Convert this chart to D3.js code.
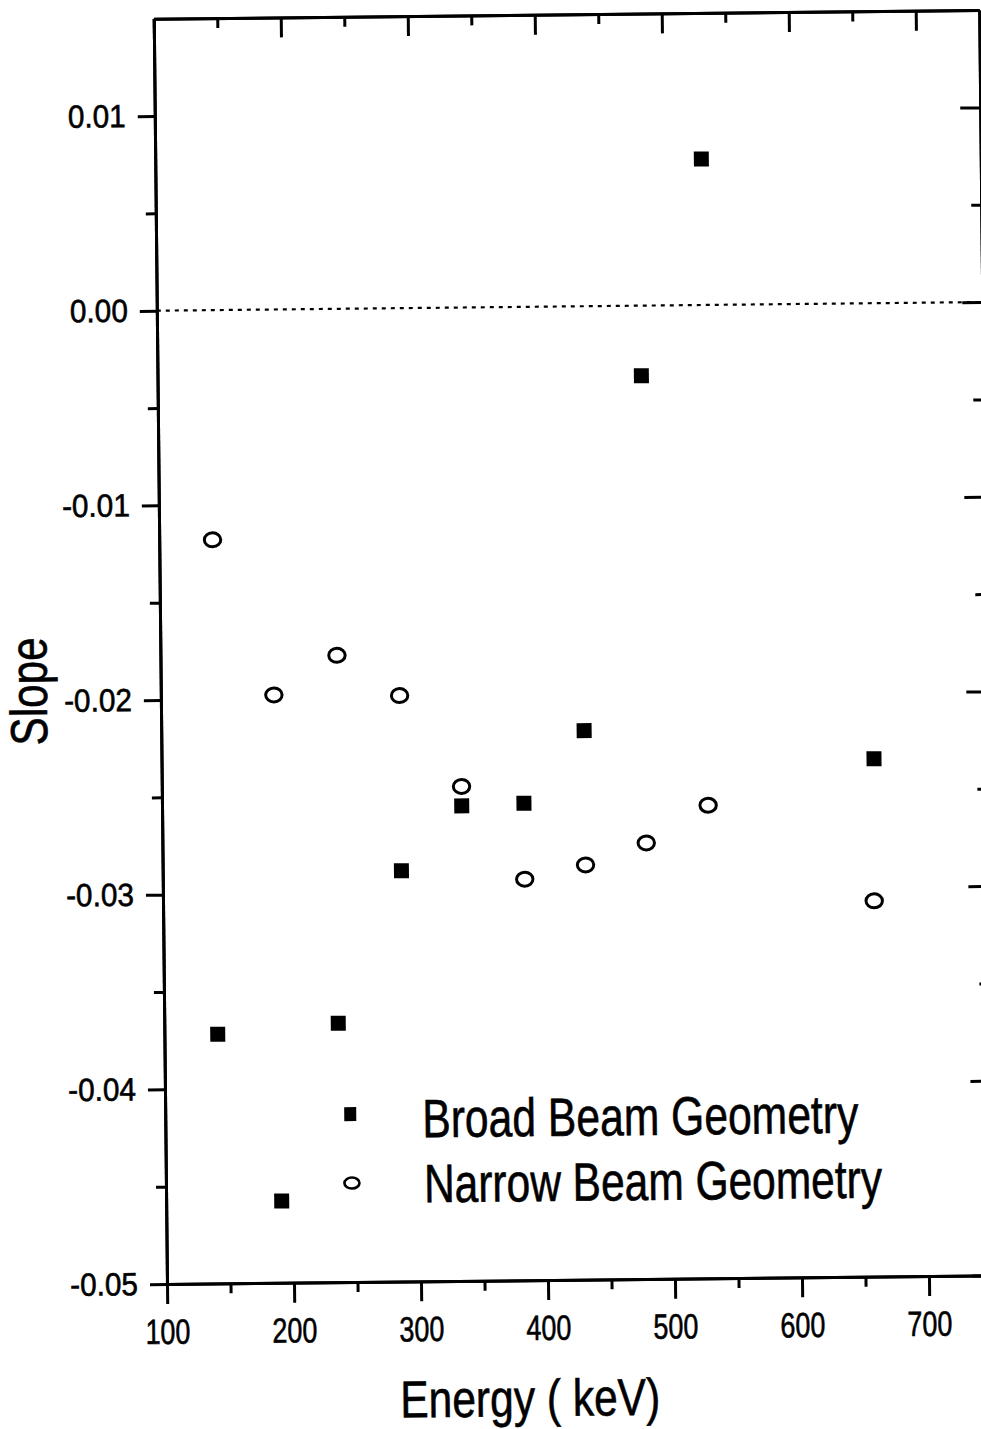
<!DOCTYPE html>
<html>
<head>
<meta charset="utf-8">
<script src="https://cdn.jsdelivr.net/npm/d3@7"></script>
<style>
  body { margin: 0; background: #fff; }
  text { font-family: "Liberation Sans", Arial, Helvetica, sans-serif; fill: #000; stroke: #000; stroke-width: 0.6px; }
</style>
</head>
<body>
<svg id="chart" width="981" height="1429"></svg>
<script>
// Slope vs. photon energy for two counting geometries
const broadEnergy  = [142, 191, 237, 288, 336, 385, 433, 481, 530, 661];
const broadSlope   = [-0.0372, -0.0458, -0.0367, -0.0289, -0.0256, -0.0255, -0.0218, -0.0036, 0.0075, -0.0234];
const narrowEnergy = [142, 189, 239, 288, 336, 385, 433, 481, 530, 660];
const narrowSlope  = [-0.0118, -0.0198, -0.0178, -0.0199, -0.0246, -0.0294, -0.0287, -0.0276, -0.0257, -0.0307];

const xMajorTicks = [100, 200, 300, 400, 500, 600, 700];
const xTickLabels = ["100", "200", "300", "400", "500", "600", "700"];
const xMinorTicks = [150, 250, 350, 450, 550, 650];
const yMajorTicks = [-0.05, -0.04, -0.03, -0.02, -0.01, 0.00, 0.01];
const yTickLabels = ["-0.05", "-0.04", "-0.03", "-0.02", "-0.01", "0.00", "0.01"];
const yMinorTicks = [-0.045, -0.035, -0.025, -0.015, -0.005, 0.005];
const seriesNames = ["Broad Beam Geometry", "Narrow Beam Geometry"];

const svg = d3.select("#chart");
const left = 167, bottom = 1284, pxPerKeV = 1.27, pxPerUnit = 19467;
const x = d3.scaleLinear().domain([100, 750]).range([left, left + 650 * pxPerKeV]);
const y = d3.scaleLinear().domain([-0.05, 0.015]).range([bottom, bottom - 0.065 * pxPerUnit]);
const [x0, x1] = x.range();
const [y0, y1] = y.range();

// the whole figure sits slightly tilted on the page
const g = svg.append("g").attr("transform", `rotate(-0.6, ${x0}, ${y0})`);

// squeeze text horizontally (narrow typeface look)
function condense(sel, f) {
  sel.each(function () {
    const w = this.getComputedTextLength();
    d3.select(this).attr("textLength", w * f).attr("lengthAdjust", "spacingAndGlyphs");
  });
}
function fitWidth(sel, w) {
  sel.attr("textLength", w).attr("lengthAdjust", "spacingAndGlyphs");
}

function styleAxis(ax) {
  ax.select(".domain").attr("stroke", "#000").attr("stroke-width", 3);
  ax.selectAll(".tick line").attr("stroke", "#000").attr("stroke-width", 3);
}

// zero reference line
g.append("line")
  .attr("x1", x0).attr("x2", x1).attr("y1", y(0)).attr("y2", y(0))
  .attr("stroke", "#000").attr("stroke-width", 2.2).attr("stroke-dasharray", "4,5");

// bottom axis
const bMinor = g.append("g").attr("transform", `translate(0,${y0})`)
  .call(d3.axisBottom(x).tickValues(xMinorTicks).tickSize(10).tickSizeOuter(0).tickFormat(""));
styleAxis(bMinor);
const bMajor = g.append("g").attr("transform", `translate(0,${y0})`)
  .call(d3.axisBottom(x).tickValues(xMajorTicks).tickSize(20).tickSizeOuter(0).tickPadding(15)
    .tickFormat((d, i) => xTickLabels[i]));
styleAxis(bMajor);
bMajor.selectAll("text").attr("font-size", 35).attr("fill", "#000").call(fitWidth, 45);

// top axis (ticks inward)
const tMinor = g.append("g").attr("transform", `translate(0,${y1})`)
  .call(d3.axisTop(x).tickValues(xMinorTicks).tickSize(-10).tickSizeOuter(0).tickFormat(""));
styleAxis(tMinor);
const tMajor = g.append("g").attr("transform", `translate(0,${y1})`)
  .call(d3.axisTop(x).tickValues(xMajorTicks).tickSize(-20).tickSizeOuter(0).tickFormat(""));
styleAxis(tMajor);

// left axis
const lMinor = g.append("g").attr("transform", `translate(${x0},0)`)
  .call(d3.axisLeft(y).tickValues(yMinorTicks).tickSize(10).tickSizeOuter(0).tickFormat(""));
styleAxis(lMinor);
const lMajor = g.append("g").attr("transform", `translate(${x0},0)`)
  .call(d3.axisLeft(y).tickValues(yMajorTicks).tickSize(17).tickSizeOuter(0).tickPadding(12)
    .tickFormat((d, i) => yTickLabels[i]));
styleAxis(lMajor);
lMajor.selectAll("text").attr("font-size", 32).attr("fill", "#000").call(condense, 0.93);

// right axis (ticks inward)
const rMinor = g.append("g").attr("transform", `translate(${x1},0)`)
  .call(d3.axisRight(y).tickValues(yMinorTicks).tickSize(-10).tickSizeOuter(0).tickFormat(""));
styleAxis(rMinor);
const rMajor = g.append("g").attr("transform", `translate(${x1},0)`)
  .call(d3.axisRight(y).tickValues(yMajorTicks).tickSize(-20).tickSizeOuter(0).tickFormat(""));
styleAxis(rMajor);

// data: broad beam (filled squares)
const sq = 15;
g.append("g").selectAll("rect")
  .data(broadEnergy.map((e, i) => [e, broadSlope[i]]))
  .join("rect")
  .attr("x", d => x(d[0]) - sq / 2).attr("y", d => y(d[1]) - sq / 2)
  .attr("width", sq).attr("height", sq).attr("fill", "#000");

// data: narrow beam (open circles)
g.append("g").selectAll("ellipse")
  .data(narrowEnergy.map((e, i) => [e, narrowSlope[i]]))
  .join("ellipse")
  .attr("cx", d => x(d[0])).attr("cy", d => y(d[1]))
  .attr("rx", 8.2).attr("ry", 7)
  .attr("fill", "none").attr("stroke", "#000").attr("stroke-width", 3);

// legend
const lg = g.append("g");
lg.append("rect").attr("x", 352 - 6).attr("y", 1116 - 7).attr("width", 12).attr("height", 14).attr("fill", "#000");
lg.append("ellipse").attr("cx", 353).attr("cy", 1185).attr("rx", 7.5).attr("ry", 5.5)
  .attr("fill", "none").attr("stroke", "#000").attr("stroke-width", 2.6);
lg.append("text").attr("x", 424).attr("y", 1140).attr("font-size", 54).text(seriesNames[0]).call(fitWidth, 436);
lg.append("text").attr("x", 425).attr("y", 1205).attr("font-size", 54).text(seriesNames[1]).call(fitWidth, 458);

// axis titles
g.append("text").attr("x", 529).attr("y", 1420).attr("text-anchor", "middle")
  .attr("font-size", 52).text("Energy ( keV)").call(fitWidth, 260);
g.append("text").attr("transform", "translate(53,690) rotate(-90)").attr("text-anchor", "middle")
  .attr("font-size", 52).text("Slope").call(fitWidth, 108);
</script>
</body>
</html>
